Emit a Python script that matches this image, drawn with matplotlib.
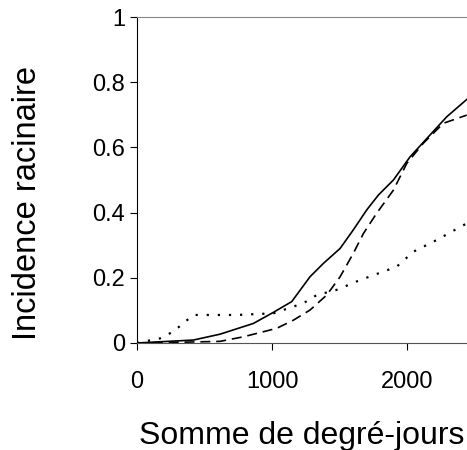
import numpy as np
from matplotlib import pyplot as plt

plt.rcParams['font.family'] = ['Liberation Sans', 'DejaVu Sans']

# cumulative degree-days and root incidence for the three curves
dd_solid = [0, 417, 615, 862, 1010, 1146, 1281, 1380, 1504, 1602, 1701, 1788, 1899, 2022, 2170, 2294, 2442]
inc_solid = [0, 0.009, 0.027, 0.06, 0.094, 0.127, 0.203, 0.244, 0.29, 0.347, 0.408, 0.454, 0.5, 0.571, 0.638, 0.694, 0.747]

dd_dashed = [0, 300, 615, 788, 1035, 1158, 1281, 1405, 1504, 1602, 1677, 1775, 1899, 1998, 2121, 2269, 2442]
inc_dashed = [0, 0.002, 0.005, 0.019, 0.045, 0.07, 0.101, 0.147, 0.203, 0.275, 0.336, 0.398, 0.469, 0.551, 0.613, 0.674, 0.699]

dd_dotted = [0, 170, 269, 417, 738, 1010, 1232, 1331, 1479, 1652, 1923, 2047, 2220, 2442]
inc_dotted = [0, 0.014, 0.035, 0.086, 0.086, 0.091, 0.122, 0.147, 0.163, 0.193, 0.234, 0.28, 0.316, 0.367]

fig = plt.figure(figsize=(4.67, 4.5), dpi=100)
ax = fig.add_axes([0.2934, 0.2378, 0.7066, 0.7244])

ax.plot(dd_solid, inc_solid, color='black', lw=1.2)
ax.plot(dd_dashed, inc_dashed, color='black', lw=1.2, linestyle=(0, (6, 3.5)))
ax.plot(dd_dotted, inc_dotted, color='black', lw=1.6, linestyle=(0, (1, 4)))

ax.set_xlim(0, 2444)
ax.set_ylim(0, 1)
ax.set_xticks([0, 1000, 2000])
ax.set_yticks([0, 0.2, 0.4, 0.6, 0.8, 1])
ax.set_yticklabels(['0', '0.2', '0.4', '0.6', '0.8', '1'])

ax.spines['right'].set_visible(False)
ax.spines['top'].set_color('#888888')
ax.spines['left'].set_color('black')
ax.spines['bottom'].set_color('#555555')
ax.tick_params(axis='both', direction='out', length=5, width=0.8, labelsize=17)
ax.tick_params(axis='x', pad=15)
ax.tick_params(axis='y', pad=3.5)

ax.set_xlabel('Somme de degré-jours', fontsize=23)
ax.set_ylabel('Incidence racinaire', fontsize=23.5)
ax.xaxis.set_label_coords(0.5, -0.239)
ax.yaxis.set_label_coords(-0.285, 0.43)

plt.savefig('out.png', dpi=100)
